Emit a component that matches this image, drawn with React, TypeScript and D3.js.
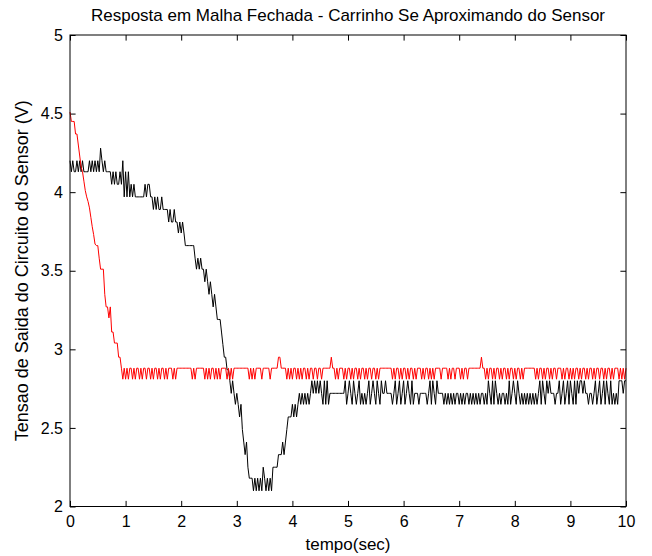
import { useEffect, useRef } from 'react';
import * as d3 from 'd3';

const title = 'Resposta em Malha Fechada - Carrinho Se Aproximando do Sensor';
const xLabel = 'tempo(sec)';
const yLabel = 'Tensao de Saida do Circuito do Sensor (V)';
const xTicks = [0, 1, 2, 3, 4, 5, 6, 7, 8, 9, 10];
const yTicks = [2, 2.5, 3, 3.5, 4, 4.5, 5];

// sampled every 25 ms, 20 samples (0.5 s) per row
const sampleStep = 0.025;

const redVolts = [
  4.51, 4.45, 4.45, 4.45, 4.37, 4.37, 4.30, 4.23, 4.16, 4.13, 4.07, 4.01, 3.97, 3.94, 3.90, 3.84, 3.78, 3.73, 3.67, 3.66,
  3.66, 3.58, 3.51, 3.51, 3.51, 3.35, 3.27, 3.27, 3.20, 3.27, 3.11, 3.11, 3.04, 3.04, 3.04, 2.95, 2.95, 2.88, 2.81, 2.88,
  2.81, 2.88, 2.81, 2.88, 2.88, 2.81, 2.88, 2.81, 2.88, 2.88, 2.81, 2.88, 2.81, 2.88, 2.88, 2.81, 2.88, 2.88, 2.81, 2.88,
  2.81, 2.88, 2.88, 2.81, 2.88, 2.81, 2.88, 2.88, 2.81, 2.88, 2.81, 2.88, 2.88, 2.88, 2.81, 2.88, 2.81, 2.88, 2.88, 2.88,
  2.88, 2.88, 2.88, 2.88, 2.88, 2.88, 2.88, 2.88, 2.81, 2.88, 2.81, 2.88, 2.88, 2.88, 2.88, 2.88, 2.88, 2.81, 2.88, 2.81,
  2.88, 2.81, 2.88, 2.88, 2.81, 2.88, 2.81, 2.88, 2.81, 2.88, 2.88, 2.88, 2.88, 2.81, 2.88, 2.81, 2.88, 2.81, 2.88, 2.88,
  2.88, 2.88, 2.88, 2.88, 2.88, 2.88, 2.88, 2.88, 2.88, 2.81, 2.88, 2.81, 2.88, 2.81, 2.88, 2.88, 2.88, 2.88, 2.81, 2.88,
  2.88, 2.88, 2.88, 2.88, 2.81, 2.88, 2.88, 2.88, 2.88, 2.88, 2.95, 2.95, 2.88, 2.88, 2.88, 2.88, 2.81, 2.88, 2.81, 2.88,
  2.81, 2.88, 2.88, 2.81, 2.88, 2.81, 2.88, 2.81, 2.88, 2.88, 2.81, 2.88, 2.81, 2.88, 2.88, 2.81, 2.88, 2.88, 2.81, 2.88,
  2.88, 2.81, 2.88, 2.88, 2.88, 2.88, 2.88, 2.88, 2.95, 2.88, 2.88, 2.81, 2.88, 2.81, 2.88, 2.88, 2.88, 2.81, 2.88, 2.81,
  2.88, 2.88, 2.81, 2.88, 2.81, 2.88, 2.88, 2.81, 2.88, 2.81, 2.88, 2.88, 2.81, 2.88, 2.81, 2.88, 2.88, 2.81, 2.88, 2.88,
  2.81, 2.88, 2.81, 2.88, 2.88, 2.88, 2.88, 2.88, 2.88, 2.88, 2.88, 2.88, 2.81, 2.88, 2.81, 2.88, 2.88, 2.81, 2.88, 2.81,
  2.88, 2.88, 2.81, 2.88, 2.81, 2.88, 2.88, 2.81, 2.88, 2.81, 2.88, 2.88, 2.88, 2.81, 2.88, 2.81, 2.88, 2.88, 2.81, 2.88,
  2.81, 2.88, 2.81, 2.88, 2.88, 2.88, 2.88, 2.81, 2.88, 2.88, 2.88, 2.88, 2.81, 2.88, 2.81, 2.88, 2.88, 2.81, 2.88, 2.88,
  2.88, 2.81, 2.88, 2.81, 2.88, 2.88, 2.81, 2.88, 2.88, 2.88, 2.88, 2.88, 2.88, 2.88, 2.88, 2.88, 2.95, 2.88, 2.88, 2.81,
  2.88, 2.81, 2.88, 2.88, 2.81, 2.88, 2.81, 2.88, 2.88, 2.81, 2.88, 2.81, 2.88, 2.88, 2.81, 2.88, 2.81, 2.88, 2.88, 2.81,
  2.88, 2.81, 2.88, 2.88, 2.81, 2.88, 2.81, 2.88, 2.88, 2.88, 2.88, 2.88, 2.88, 2.88, 2.88, 2.81, 2.88, 2.81, 2.88, 2.88,
  2.81, 2.88, 2.81, 2.88, 2.88, 2.81, 2.88, 2.81, 2.88, 2.88, 2.81, 2.88, 2.88, 2.88, 2.81, 2.88, 2.81, 2.88, 2.88, 2.81,
  2.88, 2.81, 2.88, 2.81, 2.88, 2.88, 2.81, 2.88, 2.81, 2.88, 2.88, 2.81, 2.88, 2.81, 2.88, 2.88, 2.81, 2.88, 2.81, 2.88,
  2.88, 2.81, 2.88, 2.88, 2.81, 2.88, 2.81, 2.88, 2.88, 2.81, 2.88, 2.81, 2.88, 2.88, 2.88, 2.81, 2.88, 2.81, 2.88, 2.81,
  2.88,
];

const blackVolts = [
  4.20, 4.13, 4.20, 4.13, 4.13, 4.20, 4.13, 4.20, 4.13, 4.20, 4.13, 4.13, 4.13, 4.13, 4.20, 4.13, 4.20, 4.13, 4.20, 4.13,
  4.20, 4.13, 4.28, 4.20, 4.13, 4.20, 4.13, 4.13, 4.13, 4.13, 4.05, 4.13, 4.05, 4.13, 4.05, 4.05, 4.13, 4.05, 4.20, 3.97,
  4.13, 3.97, 4.13, 3.97, 4.05, 3.97, 4.05, 3.97, 3.97, 3.97, 3.97, 3.97, 3.97, 3.97, 4.05, 3.97, 4.05, 4.05, 3.97, 3.97,
  3.89, 3.97, 3.89, 3.97, 3.89, 3.89, 3.97, 3.89, 3.89, 3.89, 3.89, 3.81, 3.89, 3.81, 3.81, 3.89, 3.81, 3.81, 3.74, 3.81,
  3.74, 3.81, 3.74, 3.66, 3.66, 3.66, 3.66, 3.66, 3.66, 3.66, 3.58, 3.51, 3.58, 3.51, 3.58, 3.51, 3.51, 3.43, 3.51, 3.43,
  3.35, 3.43, 3.35, 3.27, 3.35, 3.27, 3.19, 3.19, 3.19, 3.11, 3.03, 2.95, 2.95, 2.87, 2.87, 2.80, 2.72, 2.80, 2.72, 2.65,
  2.72, 2.65, 2.57, 2.65, 2.49, 2.41, 2.33, 2.41, 2.25, 2.18, 2.18, 2.18, 2.10, 2.18, 2.10, 2.18, 2.10, 2.18, 2.10, 2.25,
  2.18, 2.10, 2.18, 2.10, 2.18, 2.10, 2.25, 2.25, 2.25, 2.25, 2.33, 2.33, 2.33, 2.41, 2.33, 2.41, 2.49, 2.57, 2.57, 2.57,
  2.65, 2.57, 2.65, 2.57, 2.65, 2.72, 2.65, 2.72, 2.65, 2.72, 2.65, 2.72, 2.65, 2.72, 2.80, 2.72, 2.80, 2.72, 2.80, 2.72,
  2.80, 2.72, 2.65, 2.80, 2.65, 2.80, 2.65, 2.72, 2.72, 2.72, 2.72, 2.72, 2.72, 2.72, 2.72, 2.72, 2.72, 2.72, 2.80, 2.65,
  2.72, 2.80, 2.72, 2.65, 2.80, 2.72, 2.65, 2.72, 2.80, 2.65, 2.72, 2.65, 2.72, 2.65, 2.72, 2.80, 2.65, 2.72, 2.80, 2.72,
  2.65, 2.80, 2.72, 2.65, 2.80, 2.72, 2.72, 2.80, 2.72, 2.72, 2.72, 2.72, 2.65, 2.72, 2.80, 2.65, 2.72, 2.80, 2.65, 2.72,
  2.80, 2.65, 2.72, 2.80, 2.72, 2.65, 2.80, 2.65, 2.72, 2.72, 2.72, 2.65, 2.72, 2.72, 2.72, 2.72, 2.72, 2.65, 2.72, 2.80,
  2.65, 2.80, 2.72, 2.65, 2.80, 2.72, 2.72, 2.72, 2.72, 2.65, 2.72, 2.65, 2.72, 2.65, 2.72, 2.65, 2.72, 2.65, 2.72, 2.72,
  2.65, 2.72, 2.65, 2.72, 2.65, 2.72, 2.72, 2.65, 2.72, 2.65, 2.72, 2.65, 2.72, 2.65, 2.72, 2.65, 2.72, 2.72, 2.65, 2.72,
  2.65, 2.80, 2.72, 2.65, 2.80, 2.65, 2.80, 2.72, 2.65, 2.72, 2.65, 2.72, 2.72, 2.65, 2.72, 2.65, 2.80, 2.65, 2.72, 2.80,
  2.72, 2.65, 2.80, 2.72, 2.65, 2.72, 2.65, 2.72, 2.65, 2.72, 2.65, 2.72, 2.65, 2.72, 2.65, 2.72, 2.65, 2.72, 2.80, 2.65,
  2.80, 2.72, 2.65, 2.80, 2.72, 2.80, 2.72, 2.72, 2.72, 2.65, 2.72, 2.72, 2.80, 2.65, 2.72, 2.80, 2.65, 2.72, 2.80, 2.65,
  2.80, 2.72, 2.65, 2.80, 2.65, 2.80, 2.72, 2.80, 2.80, 2.72, 2.80, 2.72, 2.72, 2.65, 2.72, 2.72, 2.65, 2.72, 2.80, 2.65,
  2.72, 2.80, 2.65, 2.72, 2.80, 2.65, 2.80, 2.72, 2.65, 2.80, 2.65, 2.72, 2.65, 2.72, 2.65, 2.80, 2.80, 2.80, 2.72, 2.80,
  2.80,
];

const W = 652;
const H = 556;
const margin = { top: 35, right: 26, bottom: 49.5, left: 70 };
const font = '"Liberation Sans", Arial, Helvetica, sans-serif';

export default function App() {
  const svgRef = useRef<SVGSVGElement>(null);

  useEffect(() => {
    const svg = d3.select(svgRef.current);
    svg.selectAll('*').remove();

    const x = d3.scaleLinear().domain([0, 10]).range([margin.left, W - margin.right]);
    const y = d3.scaleLinear().domain([2, 5]).range([H - margin.bottom, margin.top]);
    const tick = 5.6;

    svg.append('rect').attr('width', W).attr('height', H).attr('fill', '#fff');

    const styleAxis = (g: any) => {
      g.select('.domain').remove();
      g.selectAll('line').attr('stroke', '#000').attr('stroke-width', 1);
      g.selectAll('text').attr('fill', '#000');
      g.attr('font-family', font).attr('font-size', 16);
    };

    svg
      .append('g')
      .attr('transform', `translate(0,${y(2)})`)
      .call(d3.axisBottom(x).tickValues(xTicks).tickSizeInner(-tick).tickSizeOuter(0).tickPadding(9).tickFormat(d3.format('d')))
      .call(styleAxis);
    svg
      .append('g')
      .attr('transform', `translate(0,${y(5)})`)
      .call(d3.axisTop(x).tickValues(xTicks).tickSizeInner(-tick).tickSizeOuter(0).tickFormat(() => ''))
      .call(styleAxis);
    svg
      .append('g')
      .attr('transform', `translate(${x(0)},0)`)
      .call(d3.axisLeft(y).tickValues(yTicks).tickSizeInner(-tick).tickSizeOuter(0).tickPadding(7).tickFormat(d3.format('')))
      .call(styleAxis);
    svg
      .append('g')
      .attr('transform', `translate(${x(10)},0)`)
      .call(d3.axisRight(y).tickValues(yTicks).tickSizeInner(-tick).tickSizeOuter(0).tickFormat(() => ''))
      .call(styleAxis);

    const line = d3
      .line<number>()
      .x((_, i) => x(i * sampleStep))
      .y((d) => y(d));

    svg
      .append('path')
      .datum(blackVolts)
      .attr('fill', 'none')
      .attr('stroke', '#000')
      .attr('stroke-width', 1)
      .attr('d', line);
    svg
      .append('path')
      .datum(redVolts)
      .attr('fill', 'none')
      .attr('stroke', '#ff0000')
      .attr('stroke-width', 1)
      .attr('d', line);

    svg
      .append('rect')
      .attr('x', x(0))
      .attr('y', y(5))
      .attr('width', x(10) - x(0))
      .attr('height', y(2) - y(5))
      .attr('fill', 'none')
      .attr('stroke', '#000')
      .attr('stroke-width', 1);

    svg
      .append('text')
      .attr('x', (x(0) + x(10)) / 2)
      .attr('y', 21)
      .attr('text-anchor', 'middle')
      .attr('font-family', font)
      .attr('font-size', 17)
      .text(title);
    svg
      .append('text')
      .attr('x', (x(0) + x(10)) / 2)
      .attr('y', 550)
      .attr('text-anchor', 'middle')
      .attr('font-family', font)
      .attr('font-size', 17)
      .text(xLabel);
    svg
      .append('text')
      .attr('transform', `translate(28,${(y(2) + y(5)) / 2}) rotate(-90)`)
      .attr('text-anchor', 'middle')
      .attr('font-family', font)
      .attr('font-size', 18)
      .text(yLabel);
  }, []);

  return (
    <svg
      ref={svgRef}
      width={W}
      height={H}
      style={{ position: 'absolute', left: 0, top: 0 }}
    ></svg>
  );
}
